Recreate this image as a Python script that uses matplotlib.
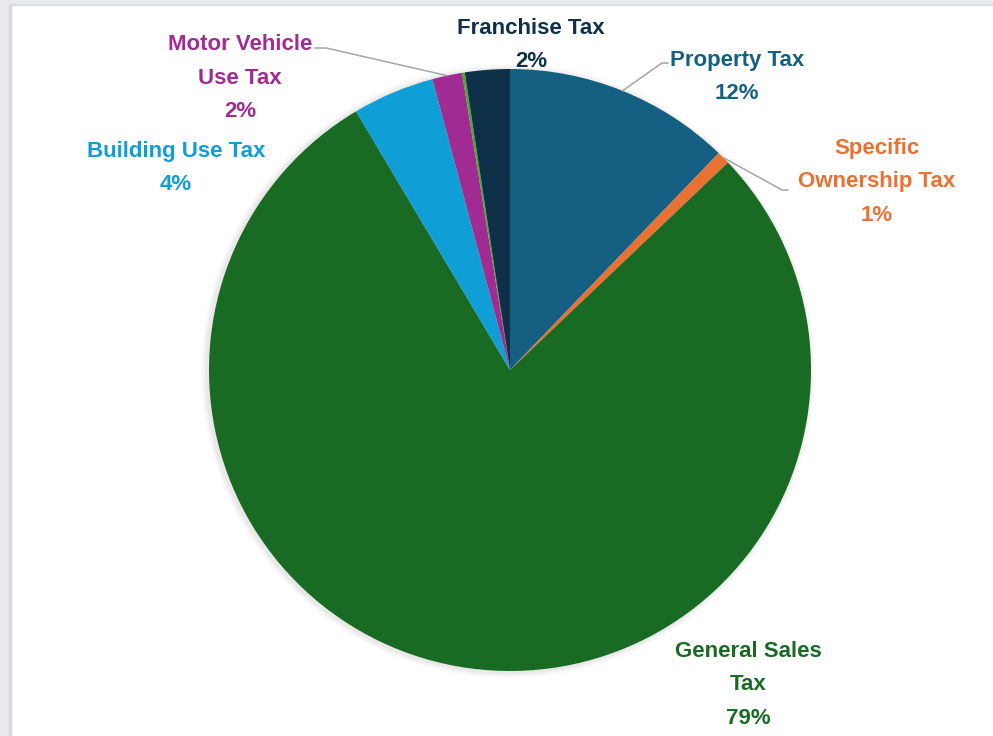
import numpy as np
import matplotlib
matplotlib.use('Agg')
import matplotlib.pyplot as plt
from matplotlib.patches import Rectangle, Circle

# revenue shares, clockwise from 12 o'clock
categories = ['Property Tax', 'Specific\nOwnership Tax', 'General Sales\nTax',
              'Building Use Tax', 'Motor Vehicle\nUse Tax', '', 'Franchise Tax']
shares = [12.2, 0.7, 78.6, 4.4, 1.6, 0.15, 2.4]
colors = ['#156082', '#e97132', '#196b24', '#0f9ed5', '#a02b93', '#4ea72e', '#0e3048']

W, H = 993, 736
fig = plt.figure(figsize=(W / 100, H / 100), dpi=100)
ax = fig.add_axes([0, 0, 1, 1])

# window frame strips
ax.add_patch(Rectangle((0, 0), 9, H, color='#e8eaee', zorder=0))
ax.add_patch(Rectangle((9, 0), 2, H, color='#d8dade', zorder=0))
ax.add_patch(Rectangle((0, H - 4), W, 4, color='#e8eaee', zorder=0))
ax.add_patch(Rectangle((11, H - 5), W, 1, color='#dcdee2', zorder=0))

cx, cy, R = 510, H - 370, 301

# soft drop shadow
for k, a in zip([6, 4, 2], [0.04, 0.06, 0.08]):
    ax.add_patch(Circle((cx - 2, cy - 1), R + k, color='#808080', alpha=a,
                        lw=0, zorder=1))

wedges, _ = ax.pie(shares, colors=colors, startangle=90, counterclock=False,
                   center=(cx, cy), radius=R, frame=True,
                   wedgeprops=dict(linewidth=0, zorder=2))
ax.set_xlim(0, W)
ax.set_ylim(0, H)
ax.set_aspect('equal')
ax.axis('off')

total = sum(shares)
fam = ['Liberation Sans Narrow', 'Liberation Sans', 'DejaVu Sans']

# label block centres (x, y from top)
label_pos = {
    0: (737, 77),
    1: (877, 182),
    2: (748, 685),
    3: (176, 168),
    4: (240, 78),
    6: (531, 45),
}
# leader line elbows (x, y from top) ending beside the label
leaders = {
    0: [(662, 63), (668, 63)],
    1: [(782, 190), (788, 190)],
    4: [(326, 48), (315, 48)],
}

for i, (name, val) in enumerate(zip(categories, shares)):
    if i not in label_pos:
        continue
    pct = round(val / total * 100)
    x, y = label_pos[i]
    ax.text(x, H - y, f'{name}\n{pct}%', ha='center', va='center',
            color=colors[i], fontsize=16, fontweight='bold', family=fam,
            linespacing=1.78, zorder=5)
    if i in leaders:
        w = wedges[i]
        mid = np.deg2rad((w.theta1 + w.theta2) / 2)
        px = cx + R * np.cos(mid)
        py = cy + R * np.sin(mid)
        xs = [px] + [p[0] for p in leaders[i]]
        ys = [py] + [H - p[1] for p in leaders[i]]
        ax.plot(xs, ys, color='#a6a6a6', lw=1.1, zorder=4)

fig.savefig('out.png', dpi=100, facecolor='white')
